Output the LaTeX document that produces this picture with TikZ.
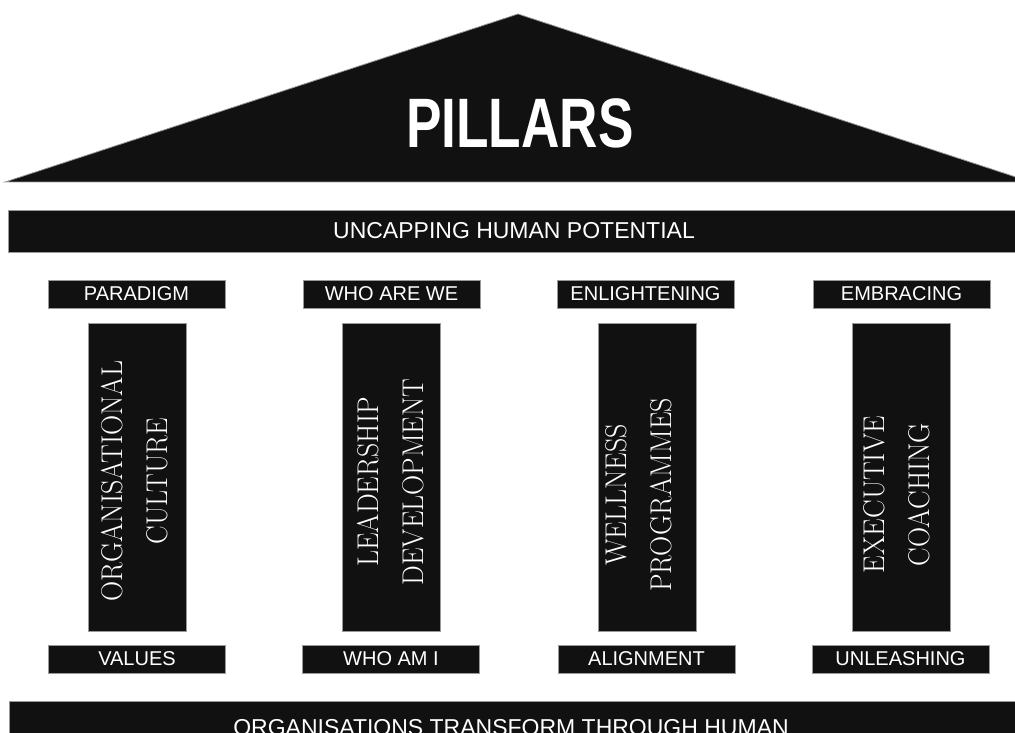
\documentclass[tikz,border=0pt]{standalone}
\usepackage{fontspec}
\setsansfont{Liberation Sans}
\newfontfamily\titlefont[FakeStretch=0.76]{Liberation Sans}
\newfontfamily\pillarfont[FakeStretch=0.93]{Latin Modern Roman}
\definecolor{pillarBlack}{RGB}{17,17,17}
\colorlet{pillarEdge}{black!40}
\colorlet{pillarText}{white}
\usepackage{tikz}
\usetikzlibrary{positioning}
\tikzset{
  slab/.style={fill=pillarBlack, draw=pillarEdge, line width=0.8pt, inner sep=0},
  band/.style={slab, minimum width=1012, minimum height=42, text=pillarText, font=\sffamily\fontsize{23}{23}\selectfont},
  tag/.style={slab, minimum width=177, minimum height=28, text=pillarText, font=\sffamily\fontsize{20}{20}\selectfont},
  shaft/.style={slab, minimum width=98, minimum height=308},
  shafttext/.style={rotate=90, inner sep=0, align=center, text=pillarText, font=\pillarfont\fontsize{30}{45}\selectfont}
}

\begin{document}
\begin{tikzpicture}[x=1pt, y=-1pt]
\useasboundingbox (0,0) rectangle (1015,733);
\fill[white] (0,0) rectangle (1015,733);
\clip (0,0) rectangle (1015,733);
\coordinate (apex) at (518,14);
\coordinate (eaveL) at (5,182);
\coordinate (eaveR) at (1031,182);
\fill[pillarBlack, draw=pillarEdge, line width=0.8pt] (apex) -- (eaveL) -- (eaveR) -- cycle;
\node[inner sep=0, text=pillarText, font=\titlefont\bfseries\fontsize{70}{70}\selectfont] (roof) at (520,123) {PILLARS};
\node[band] (beam) at (514,231) {UNCAPPING HUMAN POTENTIAL};
\node[tag] (t1) at (136.5,294) {PARADIGM};
\node[tag] (t2) at (391.5,294) {WHO ARE WE};
\node[tag] (t3) at (645.5,294) {ENLIGHTENING};
\node[tag] (t4) at (901.5,294) {EMBRACING};
\node[shaft] (p1) at (137,477) {};
\node[shaft] (p2) at (391.5,477) {};
\node[shaft] (p3) at (647,477) {};
\node[shaft] (p4) at (901,477) {};
\node[shafttext] (p1text) at (135,481) {ORGANISATIONAL\\CULTURE};
\node[shafttext] (p2text) at (390.5,482) {LEADERSHIP\\DEVELOPMENT};
\node[shafttext] (p3text) at (638.5,495) {WELLNESS\\PROGRAMMES};
\node[shafttext] (p4text) at (896.5,494.5) {EXECUTIVE\\COACHING};
\node[tag] (b1) at (137,659) {VALUES};
\node[tag] (b2) at (391,659) {WHO AM I};
\node[tag] (b3) at (646.5,659) {ALIGNMENT};
\node[tag] (b4) at (900.5,659) {UNLEASHING};
\node[slab, minimum width=1011, minimum height=70] (base) at (514.5,736) {};
\node[anchor=base, inner sep=0, text=pillarText, font=\sffamily\fontsize{23}{23}\selectfont] (basetext) at (511,735) {ORGANISATIONS TRANSFORM THROUGH HUMAN};
\end{tikzpicture}
\end{document}
